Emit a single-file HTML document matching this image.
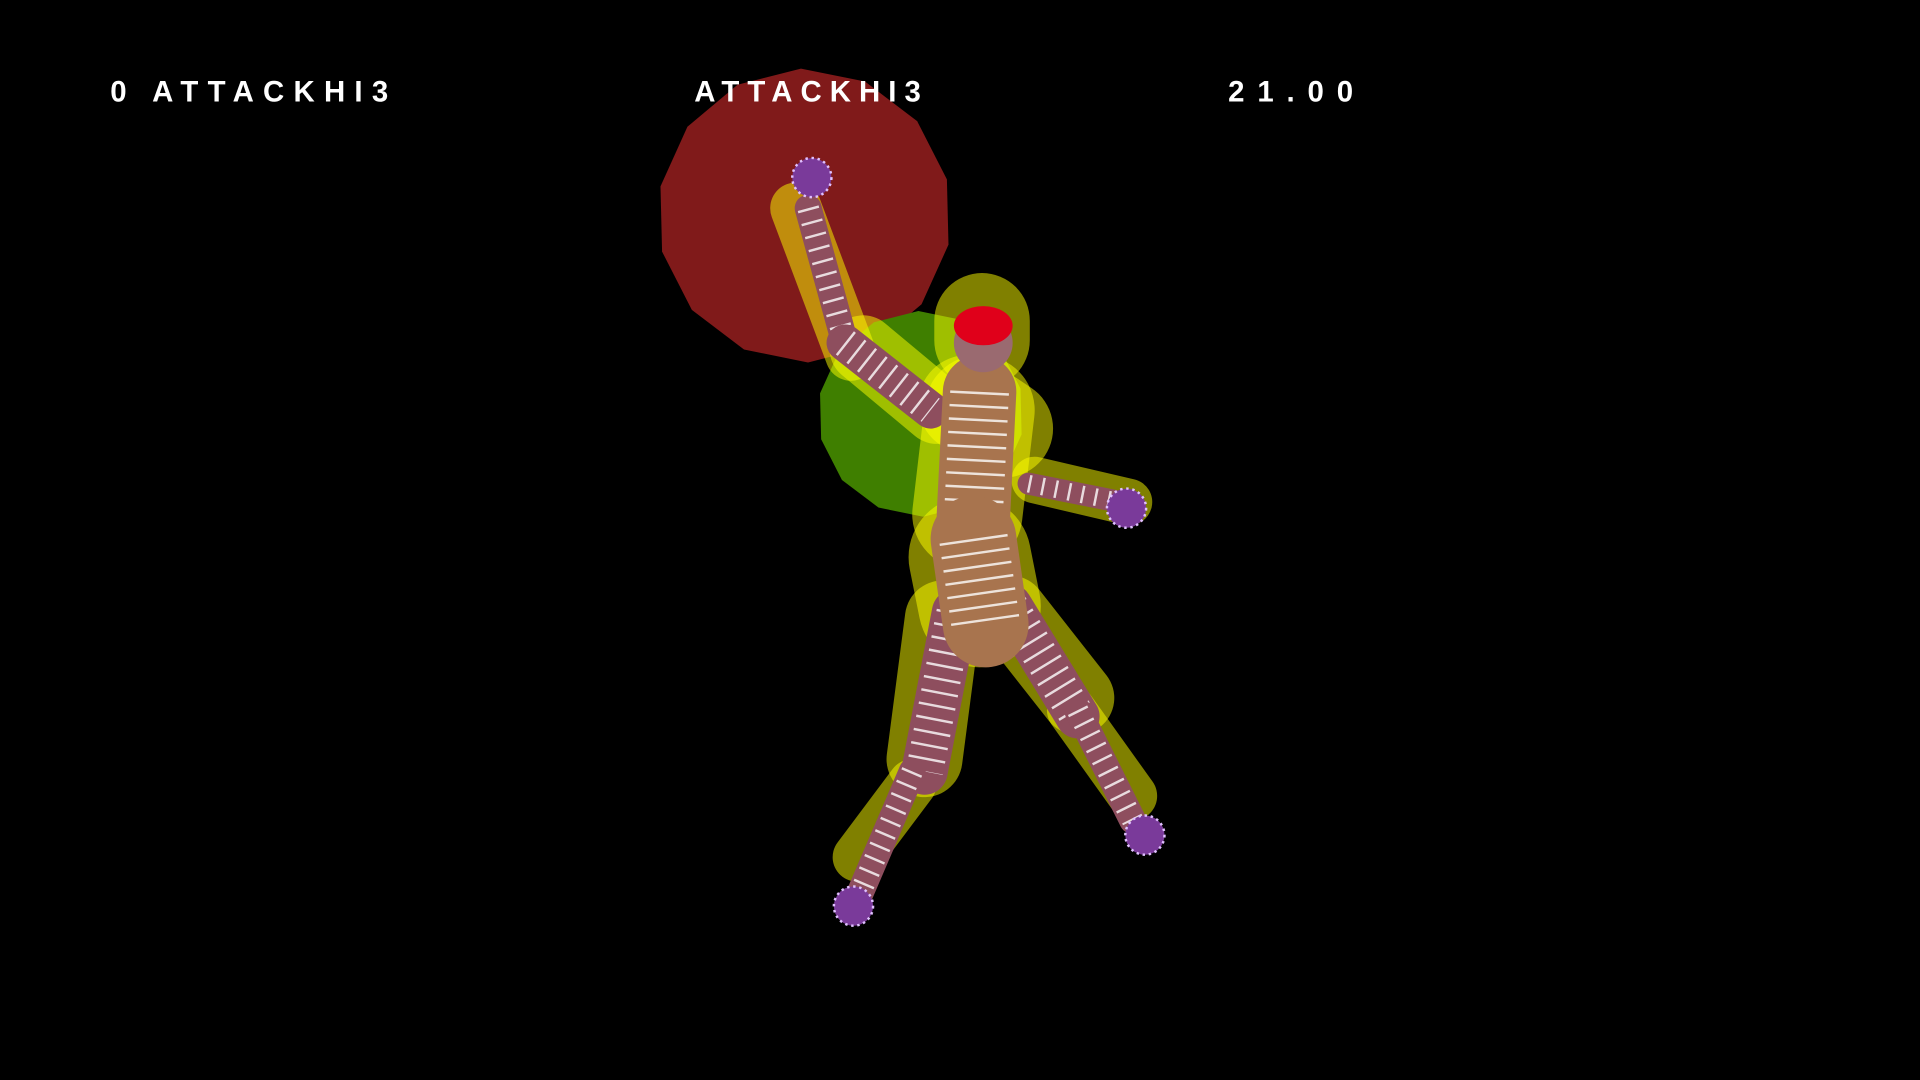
<!DOCTYPE html>
<html><head><meta charset="utf-8">
<style>
html,body{margin:0;padding:0;background:#000;width:1920px;height:1080px;overflow:hidden}
svg{display:block}
text{font-family:"Liberation Sans",sans-serif;font-weight:bold;fill:#fff}
</style></head>
<body>
<svg id="scene" width="1920" height="1080" viewBox="0 0 1568 882" xmlns="http://www.w3.org/2000/svg">
<rect width="1568" height="882" fill="#000"/>
<g id="zones"></g>
<g id="caps"></g>
<g id="body"></g>
<text x="90" y="83" font-size="24" textLength="227" lengthAdjust="spacing">0 ATTACKHI3</text>
<text x="567" y="83" font-size="24" textLength="185" lengthAdjust="spacing">ATTACKHI3</text>
<text x="1003" y="83" font-size="24" textLength="102" lengthAdjust="spacing">21.00</text>
</svg>
<script>
// [cx, cy, r] hit/hurt spheres
const hitSpheres = [[657,176,120,'#801a1a','attack-hitbox'],[752,338,84,'#3f7f00','defense-hitbox']];
// capsules: x1,y1,x2,y2,width
const capsuleNames = ['upper-arm-capsule','forearm-capsule','head-capsule','torso-capsule','right-arm-capsule','pelvis-capsule','left-thigh-capsule','left-shin-capsule','right-thigh-capsule','right-shin-capsule','chest-capsule'];
const capsuleX1 = [650,705,802,800,845,792,770,745,825,875,790];
const capsuleY1 = [170,285,262,335,392,455,505,640,500,580,330];
const capsuleX2 = [695,765,802,790,922,800,755,700,880,925,820];
const capsuleY2 = [290,335,278,420,410,495,620,700,570,650,350];
const capsuleW  = [42,55,78,90,38,100,62,40,60,40,80];
// body limbs
const limbNames=['upper-arm','forearm','torso','right-arm','left-thigh','left-shin','right-thigh','right-shin','pelvis'];
const limbX1=[660,690,800,840,780,745,825,880,795];
const limbY1=[170,280,320,395,500,630,495,580,440];
const limbX2=[690,760,795,925,755,700,880,925,805];
const limbY2=[280,335,420,412,630,735,585,670,510];
const limbW=[22,30,60,18,38,22,36,22,70];
const NS='http://www.w3.org/2000/svg';
const zones=document.getElementById('zones'),caps=document.getElementById('caps'),body=document.getElementById('body');
function poly(cx,cy,r,n){let p=[];for(let i=0;i<n;i++){const a=i/n*2*Math.PI+0.2;p.push((cx+r*Math.cos(a)).toFixed(1)+','+(cy+r*Math.sin(a)).toFixed(1));}return p.join(' ');}
hitSpheres.forEach(s=>{const e=document.createElementNS(NS,'polygon');e.setAttribute('points',poly(s[0],s[1],s[2],14));e.setAttribute('fill',s[3]);


zones.appendChild(e);});
for(let i=0;i<capsuleX1.length;i++){const l=document.createElementNS(NS,'line');
l.setAttribute('x1',capsuleX1[i]);l.setAttribute('y1',capsuleY1[i]);l.setAttribute('x2',capsuleX2[i]);l.setAttribute('y2',capsuleY2[i]);
l.setAttribute('stroke','rgba(255,255,0,0.5)');l.setAttribute('stroke-width',capsuleW[i]);l.setAttribute('stroke-linecap','round');


caps.appendChild(l);}
for(let i=0;i<limbX1.length;i++){const l=document.createElementNS(NS,'line');
l.setAttribute('x1',limbX1[i]);l.setAttribute('y1',limbY1[i]);l.setAttribute('x2',limbX2[i]);l.setAttribute('y2',limbY2[i]);
l.setAttribute('stroke',i==2||i==8?'#a8744e':'#8e4e5e');l.setAttribute('stroke-width',limbW[i]);l.setAttribute('stroke-linecap','round');


body.appendChild(l);
const g=document.createElementNS(NS,'line');
g.setAttribute('x1',limbX1[i]);g.setAttribute('y1',limbY1[i]);g.setAttribute('x2',limbX2[i]);g.setAttribute('y2',limbY2[i]);
g.setAttribute('stroke','#fff');g.setAttribute('stroke-width',limbW[i]*0.8);g.setAttribute('stroke-dasharray','2 9');g.setAttribute('opacity','0.8');


body.appendChild(g);}
const head=document.createElementNS(NS,'circle');head.setAttribute('cx',803);head.setAttribute('cy',280);head.setAttribute('r',24);head.setAttribute('fill','#9a6a70');


body.appendChild(head);
const helm=document.createElementNS(NS,'ellipse');helm.setAttribute('cx',803);helm.setAttribute('cy',266);helm.setAttribute('rx',24);helm.setAttribute('ry',16);helm.setAttribute('fill','#e0001a');


body.appendChild(helm);
[[697,740,'left-foot'],[935,682,'right-foot'],[663,145,'raised-hand'],[920,415,'right-hand']].forEach(f=>{const c=document.createElementNS(NS,'circle');c.setAttribute('cx',f[0]);c.setAttribute('cy',f[1]);c.setAttribute('r',16);c.setAttribute('fill','#7a3a9a');c.setAttribute('stroke','#e0c0ff');c.setAttribute('stroke-width','2');c.setAttribute('stroke-dasharray','2 3');


body.appendChild(c);});
</script>
</body></html>
